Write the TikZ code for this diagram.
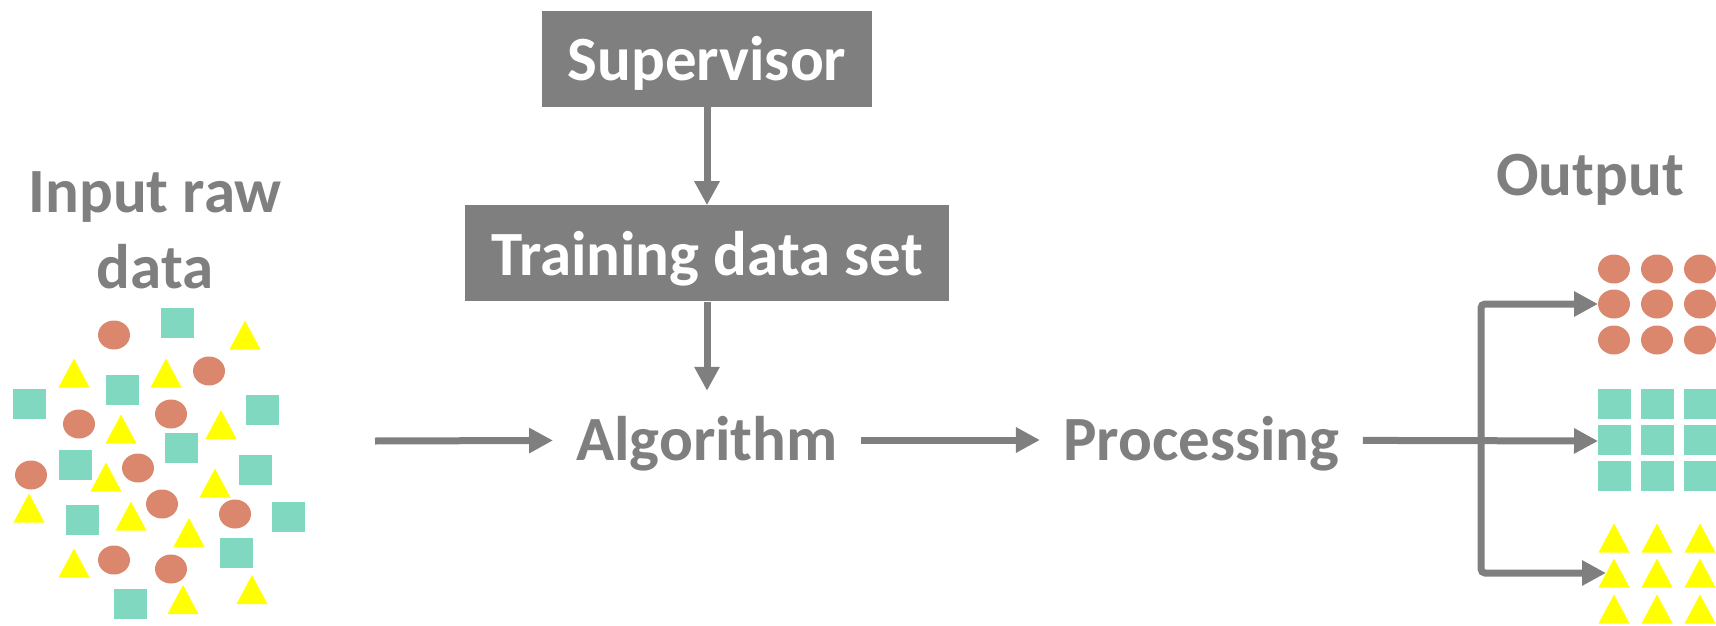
\documentclass[tikz,border=0pt]{standalone}
\usepackage{fontspec}
\setmainfont{Carlito}
\usetikzlibrary{arrows.meta, positioning}

\definecolor{flowgray}{RGB}{127,127,127}
\definecolor{dotred}{RGB}{218,135,110}
\definecolor{boxgreen}{RGB}{127,216,191}
\definecolor{triyellow}{RGB}{255,255,0}

\newcommand{\bigtext}{\bfseries\fontsize{63}{76}\selectfont}

\begin{document}
\begin{tikzpicture}[
  x=1pt, y=-1pt,
  gray box/.style={fill=flowgray, text=white, font=\bigtext, inner sep=0pt,
    text height=44pt, text depth=0pt, minimum height=96pt},
  label node/.style={text=flowgray, font=\bigtext, inner xsep=23pt, inner ysep=0pt,
    text height=40pt, text depth=0pt},
  flow arrow/.style={draw=flowgray, line width=7pt, -{Triangle[length=24pt, width=24pt]}}
]
  \clip (0,0) rectangle (1716,626);

  % Raw data: a loose heap of dots, squares and triangles
  \foreach \x/\y in {114/335, 209/371, 79/424, 171/414, 31/475, 138/468,
                     162/504, 235/514, 114/560, 171/569} {
    \fill[dotred] (\x,\y) ellipse [x radius=16pt, y radius=14.5pt];
  }
  \foreach \x/\y in {177.5/323, 122/390, 29/404, 262/410, 181/448, 75/465,
                     255/470, 82/520, 288/517, 236/553, 130/604} {
    \fill[boxgreen] ([shift={(-16.5,-15)}]\x,\y) rectangle ++(33,30);
  }
  \foreach \x/\y in {245/335, 74/373, 166/373, 121/429, 221/424.5, 106/477,
                     215/483, 29/508, 131/516, 189/532.5, 74/563, 183/599.5, 252/589.5} {
    \fill[triyellow] ([shift={(-15.5,14.5)}]\x,\y) -- ++(31,0) -- ++(-15.5,-29) -- cycle;
  }

  % Sorted output: one 3x3 block per kind
  \foreach \x in {1614, 1657, 1700} {
    \foreach \y in {269, 304, 340}
      \fill[dotred] (\x,\y) ellipse [x radius=16pt, y radius=14.5pt];
    \foreach \y in {404, 440, 476}
      \fill[boxgreen] ([shift={(-16.5,-15)}]\x,\y) rectangle ++(33,30);
    \foreach \y in {538, 573, 609}
      \fill[triyellow] ([shift={(-15.5,14.5)}]\x,\y) -- ++(31,0) -- ++(-15.5,-29) -- cycle;
  }

  % Labels and boxes (base of a two-line node is its last line)
  \node[text=flowgray, font=\bigtext, align=center, anchor=base] (rawlabel)
    at (155,288) {Input raw\\data};
  \node[text=flowgray, font=\bigtext, anchor=base] (outlabel) at (1590,195) {Output};

  \node[gray box, minimum width=330pt] (sup) at (707,59) {Supervisor};
  \node[gray box, minimum width=484pt, below=98pt of sup] (train) {Training data set};

  \node[label node, inner ysep=29pt] (alg) at (707,440) {Algorithm};
  \node[label node, right=179pt of alg] (proc) {Processing};

  \coordinate (raw) at (375,441);
  \coordinate (split) at (1481,441);
  \coordinate (dotsin) at (1598,304);
  \coordinate (boxesin) at (1598,441);
  \coordinate (trisin) at (1606,573);

  % Connectors
  \draw[flow arrow] (sup) -- (train);
  \draw[flow arrow] (train) -- (alg);
  \draw[flow arrow] (raw) -- (alg);
  \draw[flow arrow] (alg) -- (proc);
  \draw[flow arrow] (proc) -- (boxesin);
  \draw[flow arrow, rounded corners=4pt] (split) |- (dotsin);
  \draw[flow arrow, rounded corners=4pt] (split) |- (trisin);
\end{tikzpicture}
\end{document}
